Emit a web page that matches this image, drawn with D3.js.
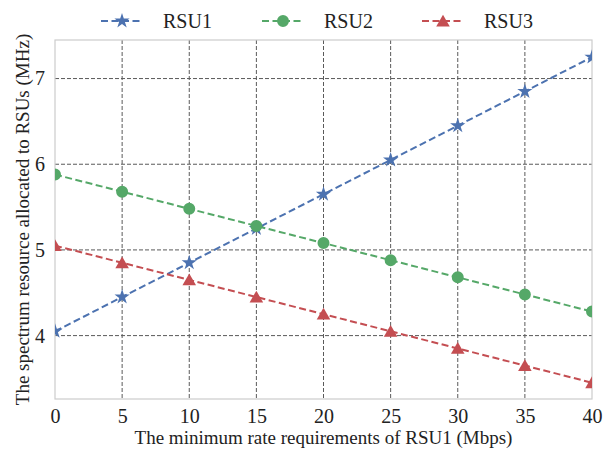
<!DOCTYPE html>
<html>
<head>
<meta charset="utf-8">
<script src="https://cdn.jsdelivr.net/npm/d3@7"></script>
<style>
  body { margin: 0; background: #fff; }
</style>
</head>
<body>
<div id="chart"></div>
<script>
// data
var rates = [0, 5, 10, 15, 20, 25, 30, 35, 40];
var rsu1 = [4.05, 4.45, 4.85, 5.25, 5.65, 6.05, 6.45, 6.85, 7.25];
var rsu2 = [5.88, 5.68, 5.48, 5.28, 5.08, 4.88, 4.68, 4.48, 4.28];
var rsu3 = [5.05, 4.85, 4.65, 4.45, 4.25, 4.05, 3.85, 3.65, 3.45];
var seriesNames = ["RSU1", "RSU2", "RSU3"];
var xTicks = [0, 5, 10, 15, 20, 25, 30, 35, 40];
var yTicks = [4, 5, 6, 7];

var colors = ["#4C72B0", "#55A868", "#C44E52"];
var symbols = [d3.symbolStar, d3.symbolCircle, d3.symbolTriangle];
var symSizes = [72, 113, 80];
var serif = "'Liberation Serif', 'Times New Roman', serif";

var W = 603, H = 452;
var margin = {top: 40, right: 11, bottom: 53, left: 55};
var width = W - margin.left - margin.right;
var height = H - margin.top - margin.bottom;

var svg = d3.select("#chart").append("svg")
  .attr("width", W).attr("height", H);

var g = svg.append("g")
  .attr("transform", "translate(" + margin.left + "," + margin.top + ")");

var x = d3.scaleLinear().domain([0, 40]).range([0, width]);
var y = d3.scaleLinear().domain([3.26, 7.45]).range([height, 0]);

// grid
g.append("g")
  .selectAll("line").data(xTicks.slice(1, -1)).enter().append("line")
  .attr("x1", function(d) { return x(d); }).attr("x2", function(d) { return x(d); })
  .attr("y1", 0).attr("y2", height)
  .attr("stroke", "#5a5a5a").attr("stroke-width", 1).attr("stroke-dasharray", "4,2");

g.append("g")
  .selectAll("line").data(yTicks).enter().append("line")
  .attr("x1", 0).attr("x2", width)
  .attr("y1", function(d) { return y(d); }).attr("y2", function(d) { return y(d); })
  .attr("stroke", "#5a5a5a").attr("stroke-width", 1).attr("stroke-dasharray", "4,2");

// axes (labels only)
var xAxis = g.append("g")
  .attr("transform", "translate(0," + height + ")")
  .call(d3.axisBottom(x).tickValues(xTicks).tickFormat(d3.format("d")).tickSize(0).tickPadding(10));
var yAxis = g.append("g")
  .call(d3.axisLeft(y).tickValues(yTicks).tickFormat(d3.format("d")).tickSize(0).tickPadding(10));
[xAxis, yAxis].forEach(function(a) {
  a.attr("font-family", null).attr("font-size", null);
  a.select(".domain").remove();
  a.selectAll("text")
    .style("font-family", serif)
    .style("font-size", "20px")
    .attr("fill", "#222");
});

// frame
g.append("rect")
  .attr("width", width).attr("height", height)
  .attr("fill", "none").attr("stroke", "#ccc").attr("stroke-width", 1.2);

// clip
svg.append("clipPath").attr("id", "clip")
  .append("rect").attr("width", width).attr("height", height);

var allSeries = [rsu1, rsu2, rsu3];
var line = d3.line()
  .x(function(d, i) { return x(rates[i]); })
  .y(function(d) { return y(d); });

var plot = g.append("g").attr("clip-path", "url(#clip)");

allSeries.forEach(function(vals, k) {
  plot.append("path")
    .datum(vals)
    .attr("d", line)
    .attr("fill", "none")
    .attr("stroke", colors[k])
    .attr("stroke-width", 2)
    .attr("stroke-dasharray", "7,3.5");

  plot.selectAll(".m" + k).data(vals).enter().append("path")
    .attr("class", "m" + k)
    .attr("transform", function(d, i) {
      var dy = (k == 2) ? 1.5 : 0;
      return "translate(" + x(rates[i]) + "," + (y(d) + dy) + ")";
    })
    .attr("d", d3.symbol().type(symbols[k]).size(symSizes[k]))
    .attr("fill", colors[k]);
});

// axis titles
svg.append("text")
  .attr("x", margin.left + width / 2)
  .attr("y", 444)
  .attr("text-anchor", "middle")
  .style("font-family", serif)
  .style("font-size", "19px")
  .attr("fill", "#222")
  .text("The minimum rate requirements of RSU1 (Mbps)");

svg.append("text")
  .attr("transform", "translate(29," + (margin.top + height / 2) + ") rotate(-90)")
  .attr("text-anchor", "middle")
  .style("font-family", serif)
  .style("font-size", "19px")
  .attr("fill", "#222")
  .text("The spectrum resource allocated to RSUs (MHz)");

// legend
var legendX = [101, 262, 422];
var legend = svg.append("g");
seriesNames.forEach(function(name, k) {
  var lg = legend.append("g").attr("transform", "translate(" + legendX[k] + ",21)");
  lg.append("line")
    .attr("x1", 0).attr("x2", 41).attr("y1", 0).attr("y2", 0)
    .attr("stroke", colors[k]).attr("stroke-width", 2).attr("stroke-dasharray", "7,3.5");
  lg.append("path")
    .attr("transform", "translate(21," + (k == 2 ? 1.5 : 0) + ")")
    .attr("d", d3.symbol().type(symbols[k]).size(symSizes[k]))
    .attr("fill", colors[k]);
  lg.append("text")
    .attr("x", 62).attr("y", 6.5)
    .style("font-family", serif)
    .style("font-size", "20px")
    .attr("fill", "#222")
    .text(name);
});
</script>
</body>
</html>
